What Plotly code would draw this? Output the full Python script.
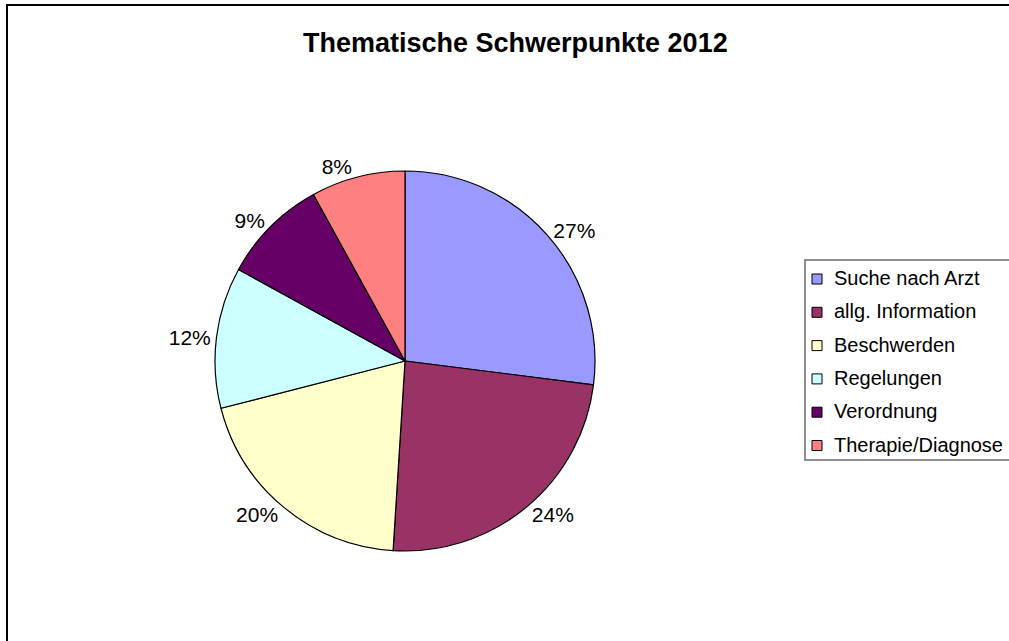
import plotly.graph_objects as go

categories = ["Suche nach Arzt", "allg. Information", "Beschwerden",
              "Regelungen", "Verordnung", "Therapie/Diagnose"]
values = [27, 24, 20, 12, 9, 8]
colors = ["#9999FF", "#993366", "#FFFFCC", "#CCFFFF", "#660066", "#FF8080"]
title_text = "Thematische Schwerpunkte 2012"

W, H = 1009, 641
FONT = "Liberation Sans, Arial, sans-serif"


def px(x):
    return x / W


def py(y):
    return 1 - y / H


cx, cy, r = 405, 361, 190

fig = go.Figure(go.Pie(
    labels=categories,
    values=values,
    sort=False,
    direction="clockwise",
    rotation=0,
    marker=dict(colors=colors, line=dict(color="black", width=1.2)),
    textposition="outside",
    texttemplate="%{percent:.0%}",
    outsidetextfont=dict(family=FONT, size=21, color="black"),
    hoverinfo="label+percent",
    showlegend=False,
    domain=dict(x=[px(cx - r), px(cx + r)], y=[py(cy + r), py(cy - r)]),
))

shapes = [
    # outer chart border
    dict(type="rect", xref="paper", yref="paper",
         x0=px(7), x1=px(W + 10), y0=py(H + 10), y1=py(5),
         line=dict(color="black", width=2), fillcolor="rgba(0,0,0,0)", layer="above"),
    # legend box
    dict(type="rect", xref="paper", yref="paper",
         x0=px(805), x1=px(W + 10), y0=py(460), y1=py(260),
         line=dict(color="#6b6b6b", width=1.5), fillcolor="white", layer="below"),
]
annotations = [
    dict(text="<b>" + title_text + "</b>", xref="paper", yref="paper",
         x=px(515), y=py(43), xanchor="center", yanchor="middle", showarrow=False,
         font=dict(family=FONT, size=27, color="black")),
]

row0, step = 278, 33.3
for i, (cat, col) in enumerate(zip(categories, colors)):
    yc = row0 + i * step
    shapes.append(dict(type="rect", xref="paper", yref="paper",
                       x0=px(812), x1=px(822), y0=py(yc + 6), y1=py(yc - 4),
                       line=dict(color="black", width=1), fillcolor=col))
    annotations.append(dict(text=cat, xref="paper", yref="paper",
                            x=px(832), y=py(yc), xanchor="left", yanchor="middle",
                            showarrow=False,
                            font=dict(family=FONT, size=20, color="black")))

fig.update_layout(
    width=W, height=H,
    margin=dict(l=0, r=0, t=0, b=0),
    paper_bgcolor="white", plot_bgcolor="white",
    shapes=shapes, annotations=annotations,
)

fig.write_html("out.html",
               config=dict(displayModeBar=False),
               post_script="document.body.style.margin='0';document.body.style.overflow='hidden';")
